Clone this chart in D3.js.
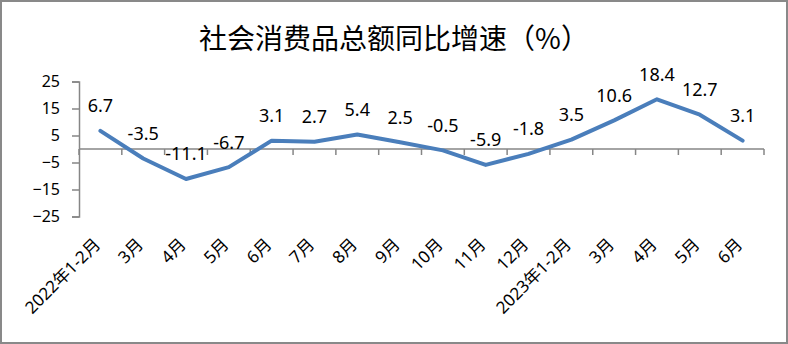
<!DOCTYPE html>
<html>
<head>
<meta charset="utf-8">
<script src="https://cdn.jsdelivr.net/npm/d3@7"></script>
<style>
  body { margin: 0; background: #fff; }
</style>
</head>
<body>
<div id="vis"></div>
<script>
// 社会消费品总额同比增速 line chart

var width = 788;
var height = 344;

var categories = ["2022年1-2月", "3月", "4月", "5月", "6月", "7月", "8月", "9月", "10月", "11月", "12月",
                  "2023年1-2月", "3月", "4月", "5月", "6月"];
var growth = [6.7, -3.5, -11.1, -6.7, 3.1, 2.7, 5.4, 2.5, -0.5, -5.9, -1.8, 3.5, 10.6, 18.4, 12.7, 3.1];
var yTicks = [25, 15, 5, -5, -15, -25];

var plotLeft = 79, plotRight = 764, plotTop = 81.5, plotBottom = 216.5;
var font = "'Noto Sans', 'Noto Sans CJK SC', sans-serif";
var axisColor = "#868686";

var svg = d3.select("#vis")
            .append("svg")
            .attr("width", width)
            .attr("height", height);

// outer frame
svg.append("rect")
   .attr("x", 1)
   .attr("y", 1)
   .attr("width", width - 2)
   .attr("height", height - 2)
   .attr("fill", "#fff")
   .attr("stroke", "#898989")
   .attr("stroke-width", 2);

svg.append("text")
   .attr("x", width / 2)
   .attr("y", 49)
   .attr("text-anchor", "middle")
   .style("font-family", "'Noto Sans CJK SC', sans-serif")
   .style("font-size", "28px")
   .attr("fill", "#000")
   .text("社会消费品总额同比增速（%）");

// categories repeat (3月..6月), so the band scale works on indices
var idx = d3.range(categories.length);

var x = d3.scaleBand()
          .domain(idx)
          .range([plotLeft, plotRight]);

var y = d3.scaleLinear()
          .domain([-25, 25])
          .range([plotBottom, plotTop]);

function cx(i) { return x(i) + x.bandwidth() / 2; }

// y axis
var yAxis = svg.append("g")
   .attr("transform", `translate(${plotLeft}, 0)`)
   .call(d3.axisLeft(y).tickValues(yTicks).tickSize(7).tickPadding(12).tickFormat(d3.format("d")));

yAxis.select(".domain").attr("stroke", axisColor).attr("stroke-width", 1.5);
yAxis.selectAll(".tick line").attr("stroke", axisColor).attr("stroke-width", 1.5);
yAxis.selectAll(".tick text")
     .style("font-family", font)
     .style("font-size", "16px")
     .attr("fill", "#000");

// x axis at zero, ticks between categories
var boundaries = idx.map(function(i) { return x(i); }).concat([plotRight]);

svg.append("line")
   .attr("x1", plotLeft)
   .attr("x2", plotRight)
   .attr("y1", y(0))
   .attr("y2", y(0))
   .attr("stroke", axisColor)
   .attr("stroke-width", 1.5);

svg.selectAll(".xtick")
   .data(boundaries)
   .enter()
   .append("line")
   .attr("class", "xtick")
   .attr("x1", function(d) { return d; })
   .attr("x2", function(d) { return d; })
   .attr("y1", y(0))
   .attr("y2", y(0) + 6)
   .attr("stroke", axisColor)
   .attr("stroke-width", 1.5);

// category labels at bottom, rotated
svg.selectAll(".xlabel")
   .data(idx)
   .enter()
   .append("text")
   .attr("class", "xlabel")
   .attr("text-anchor", "end")
   .attr("transform", function(i) {
     return `translate(${cx(i) + 1}, ${plotBottom + 29}) rotate(-45)`;
   })
   .style("font-family", font)
   .style("font-size", "17px")
   .attr("fill", "#000")
   .text(function(i) { return categories[i]; });

// line
var line = d3.line()
             .x(function(d, i) { return cx(i); })
             .y(function(d) { return y(d); });

svg.append("path")
   .datum(growth)
   .attr("d", line)
   .attr("fill", "none")
   .attr("stroke", "#4a7ebb")
   .attr("stroke-width", 4)
   .attr("stroke-linejoin", "round")
   .attr("stroke-linecap", "round");

// value labels
svg.selectAll(".vlabel")
   .data(growth)
   .enter()
   .append("text")
   .attr("class", "vlabel")
   .attr("x", function(d, i) { return cx(i); })
   .attr("y", function(d) { return y(d) - 18.5; })
   .attr("text-anchor", "middle")
   .style("font-family", font)
   .style("font-size", "18px")
   .attr("fill", "#000")
   .text(function(d) { return d; });
</script>
</body>
</html>
